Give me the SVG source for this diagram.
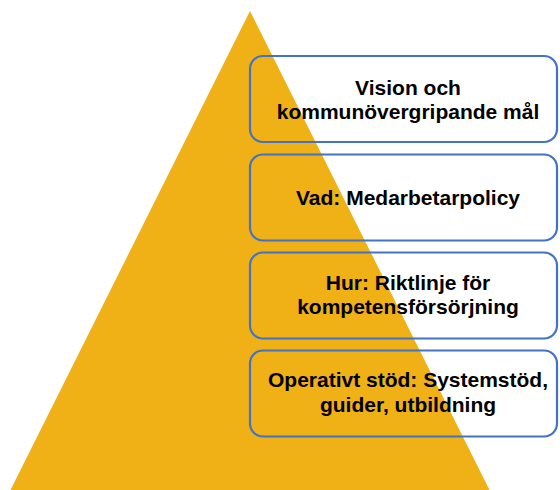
<svg xmlns="http://www.w3.org/2000/svg" width="560" height="490" viewBox="0 0 560 490">
<style>
.box{fill:none;stroke:#4472C4;stroke-width:2.2}
.t{font-family:"Liberation Sans",Arial,sans-serif;font-weight:bold;font-size:21px;fill:#000;text-anchor:middle}
</style>
<rect width="560" height="490" fill="#fff"/>
<g id="pyramid"><polygon points="250,11 10,491 490,491" fill="#EFB116"/></g>
<g id="connectors"></g>
<g id="level1"><rect class="box" x="250" y="56" width="307" height="86" rx="13"/><text class="t" x="408" y="95">Vision och</text><text class="t" x="408" y="119">kommunövergripande mål</text></g>
<g id="level2"><rect class="box" x="250" y="154.5" width="307" height="86" rx="13"/><text class="t" x="408" y="205">Vad: Medarbetarpolicy</text></g>
<g id="level3"><rect class="box" x="250" y="252.5" width="307" height="86" rx="13"/><text class="t" x="408" y="290">Hur: Riktlinje för</text><text class="t" x="408" y="314">kompetensförsörjning</text></g>
<g id="level4"><rect class="box" x="250" y="350.5" width="307" height="86" rx="13"/><text class="t" x="408" y="387">Operativt stöd: Systemstöd,</text><text class="t" x="408" y="412">guider, utbildning</text></g>
</svg>
